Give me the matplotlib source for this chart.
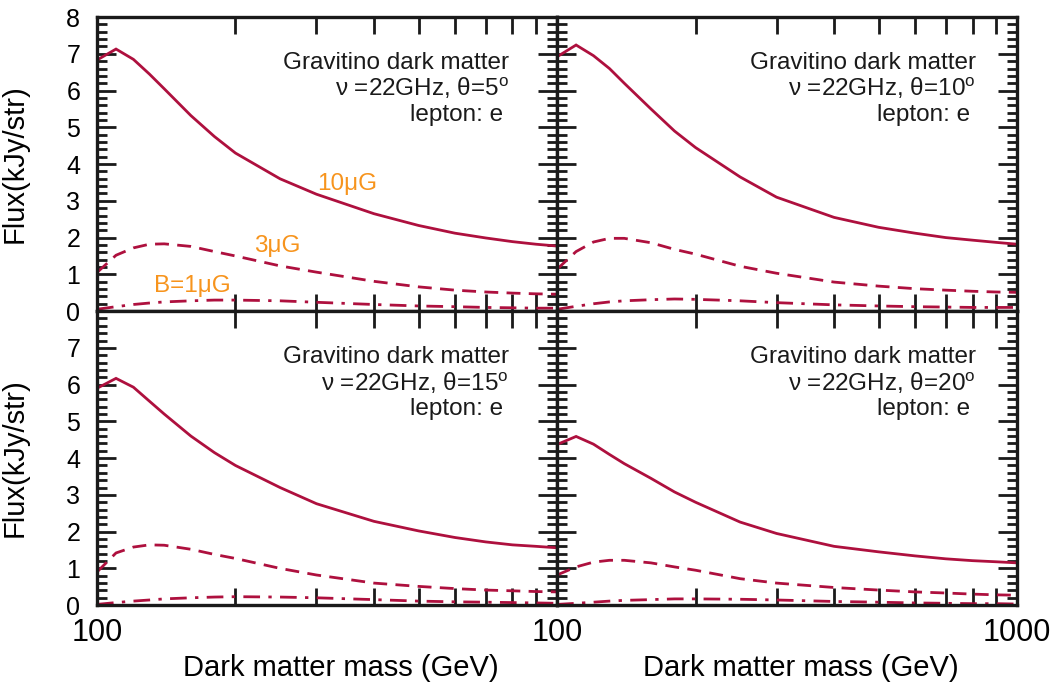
import matplotlib
matplotlib.use("Agg")
import matplotlib.pyplot as plt
from matplotlib.ticker import FixedLocator, FixedFormatter, MultipleLocator

plt.rcParams['font.family'] = ['Liberation Sans', 'DejaVu Sans']
plt.rcParams['mathtext.fontset'] = 'custom'
plt.rcParams['mathtext.rm'] = 'Liberation Sans'

# Dark matter mass grid (GeV)
mass = [100, 110, 120, 130, 140, 160, 180, 200, 250, 300, 400, 500, 600, 700, 800, 900, 1000]

# Flux (kJy/str) at theta = 5 deg
flux_5_10uG = [6.83, 7.13, 6.85, 6.45, 6.05, 5.32, 4.75, 4.30, 3.60, 3.18, 2.65, 2.33, 2.12, 1.99, 1.89, 1.82, 1.77]
flux_5_3uG = [1.05, 1.52, 1.72, 1.82, 1.83, 1.76, 1.62, 1.50, 1.23, 1.06, 0.81, 0.66, 0.57, 0.52, 0.49, 0.47, 0.46]
flux_5_1uG = [0.05, 0.12, 0.18, 0.22, 0.25, 0.28, 0.30, 0.30, 0.28, 0.24, 0.18, 0.14, 0.12, 0.10, 0.09, 0.08, 0.08]

# Flux (kJy/str) at theta = 10 deg
flux_10_10uG = [6.92, 7.24, 6.95, 6.60, 6.20, 5.50, 4.90, 4.45, 3.65, 3.10, 2.55, 2.28, 2.12, 2.00, 1.93, 1.87, 1.82]
flux_10_3uG = [1.14, 1.62, 1.88, 1.98, 1.98, 1.86, 1.68, 1.55, 1.22, 1.03, 0.79, 0.68, 0.61, 0.57, 0.54, 0.52, 0.51]
flux_10_1uG = [0.05, 0.13, 0.20, 0.25, 0.28, 0.31, 0.33, 0.32, 0.28, 0.23, 0.17, 0.14, 0.12, 0.11, 0.10, 0.10, 0.10]

# Flux (kJy/str) at theta = 15 deg
flux_15_10uG = [5.90, 6.17, 5.93, 5.55, 5.20, 4.60, 4.15, 3.80, 3.20, 2.76, 2.28, 2.02, 1.84, 1.72, 1.64, 1.60, 1.56]
flux_15_3uG = [0.90, 1.42, 1.58, 1.64, 1.63, 1.52, 1.38, 1.27, 1.00, 0.82, 0.60, 0.51, 0.45, 0.41, 0.39, 0.37, 0.36]
flux_15_1uG = [0.02, 0.07, 0.11, 0.14, 0.17, 0.20, 0.22, 0.23, 0.22, 0.20, 0.15, 0.11, 0.09, 0.08, 0.07, 0.06, 0.05]

# Flux (kJy/str) at theta = 20 deg
flux_20_10uG = [4.37, 4.59, 4.38, 4.10, 3.85, 3.45, 3.08, 2.80, 2.26, 1.95, 1.60, 1.45, 1.34, 1.26, 1.21, 1.18, 1.15]
flux_20_3uG = [0.82, 1.04, 1.17, 1.22, 1.22, 1.15, 1.04, 0.95, 0.72, 0.60, 0.48, 0.41, 0.36, 0.33, 0.30, 0.28, 0.27]
flux_20_1uG = [0.02, 0.05, 0.08, 0.11, 0.13, 0.15, 0.17, 0.17, 0.16, 0.14, 0.10, 0.08, 0.06, 0.05, 0.04, 0.04, 0.03]

angles = ['5', '10', '15', '20']
panel_flux = [
    (flux_5_10uG, flux_5_3uG, flux_5_1uG),
    (flux_10_10uG, flux_10_3uG, flux_10_1uG),
    (flux_15_10uG, flux_15_3uG, flux_15_1uG),
    (flux_20_10uG, flux_20_3uG, flux_20_1uG),
]

# Field-strength labels (text, mass, flux) drawn in the first panel
field_labels = [('10\u03bcG', 350, 3.45), ('3\u03bcG', 247, 1.76), ('B=1\u03bcG', 161, 0.68)]

x_major = [100, 1000]
x_minor = [200, 300, 400, 500, 600, 700, 800, 900]
y_tick_labels = ['0', '1', '2', '3', '4', '5', '6', '7', '8']

line_color = '#AE103E'
label_color = '#F7941D'
ink = '#1a1a1a'

fig, axes = plt.subplots(2, 2, figsize=(10.54, 6.83), dpi=100)
fig.subplots_adjust(left=0.092, right=0.965, top=0.975, bottom=0.114, hspace=0, wspace=0)

dash_style = (0, (5, 3))
dashdot_style = (0, (6, 3, 1.2, 3))

for idx, ax in enumerate(axes.flat):
    row, col = divmod(idx, 2)
    f10, f3, f1 = panel_flux[idx]
    ax.plot(mass, f10, color=line_color, lw=2.0, solid_joinstyle='miter')
    ax.plot(mass, f3, color=line_color, lw=2.0, linestyle=dash_style)
    ax.plot(mass, f1, color=line_color, lw=2.0, linestyle=dashdot_style)

    ax.set_xscale('log')
    ax.set_xlim(100, 1000)
    ax.set_ylim(0, 8)

    ax.xaxis.set_major_locator(FixedLocator(x_major))
    ax.xaxis.set_minor_locator(FixedLocator(x_minor))
    ax.yaxis.set_major_locator(FixedLocator(range(len(y_tick_labels))))
    ax.yaxis.set_minor_locator(MultipleLocator(0.2))

    ax.tick_params(which='both', direction='in', top=True, right=True, color=ink)
    ax.tick_params(axis='x', which='both', length=12, width=2)
    ax.tick_params(axis='y', which='major', length=14, width=2)
    ax.tick_params(axis='y', which='minor', length=7, width=2)
    ax.tick_params(axis='x', which='major', labelsize=22, pad=9)
    ax.tick_params(axis='y', which='major', labelsize=18, pad=12)
    ax.xaxis.set_minor_formatter(FixedFormatter([''] * len(x_minor)))

    for sp in ax.spines.values():
        sp.set_linewidth(2.4)
        sp.set_color(ink)

    # x tick labels only on the bottom row
    if row == 1:
        if col == 0:
            ax.xaxis.set_major_formatter(FixedFormatter(['100', '']))
        else:
            ax.xaxis.set_major_formatter(FixedFormatter(['100', '1000']))
        ax.set_xlabel('Dark matter mass (GeV)', fontsize=21)
        ax.xaxis.set_label_coords(0.53, -0.165)
    else:
        ax.tick_params(axis='x', which='both', labelbottom=False)

    # y tick labels only on the left column
    if col == 0:
        labels = list(y_tick_labels)
        if row == 1:
            labels[-1] = ''
        ax.yaxis.set_major_formatter(FixedFormatter(labels))
        ax.set_ylabel('Flux(kJy/str)', fontsize=21)
        ax.yaxis.set_label_coords(-0.148, 0.5)
    else:
        ax.tick_params(axis='y', which='both', labelleft=False)

    xr = 0.895 if col == 0 else 0.91
    ax.text(xr, 0.845, 'Gravitino dark matter', transform=ax.transAxes,
            ha='right', va='center', fontsize=17.5, color=ink)
    ax.text(xr, 0.757, '\u03bd =22GHz, \u03b8=' + angles[idx] + r'$^{\mathrm{o}}$',
            transform=ax.transAxes, ha='right', va='center', fontsize=17.5, color=ink)
    ax.text(xr - 0.012, 0.667, 'lepton: e', transform=ax.transAxes,
            ha='right', va='center', fontsize=17.5, color=ink)

for text, m, fl in field_labels:
    axes[0, 0].text(m, fl, text, ha='center', va='center', fontsize=17.5, color=label_color)

fig.savefig('out.png', dpi=100)
